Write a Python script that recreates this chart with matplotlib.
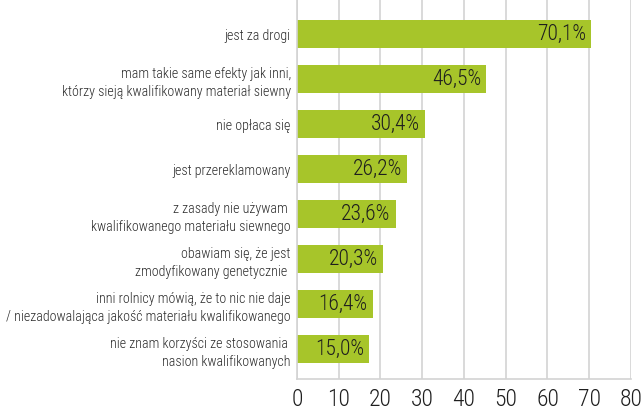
import matplotlib
matplotlib.use("Agg")
import matplotlib.pyplot as plt
from matplotlib import font_manager

categories = [
    "jest za drogi",
    "mam takie same efekty jak inni,\nktórzy sieją kwalifikowany materiał siewny",
    "nie opłaca się",
    "jest przereklamowany",
    "z zasady nie używam \nkwalifikowanego materiału siewnego",
    "obawiam się, że jest\nzmodyfikowany genetycznie ",
    "inni rolnicy mówią, że to nic nie daje\n/ niezadowalająca jakość materiału kwalifikowanego",
    "nie znam korzyści ze stosowania \nnasion kwalifikowanych",
]
# bar lengths as drawn in the picture, labels as printed on the bars
bar_lengths = [70.4, 45.3, 30.7, 26.3, 23.6, 20.5, 18.1, 17.2]
value_labels = ["70,1%", "46,5%", "30,4%", "26,2%", "23,6%", "20,3%", "16,4%", "15,0%"]
x_ticks = [0, 10, 20, 30, 40, 50, 60, 70, 80]

font = font_manager.FontProperties(family="Roboto Condensed", weight="light")

bar_color = "#a7c52a"
text_color = "#1e1e1e"
grid_color = "#d3d3d3"

fig = plt.figure(figsize=(6.43, 4.16), dpi=100)
ax = fig.add_axes([0.4619, 0.0889, 0.5194, 0.9111])

positions = list(range(len(categories)))
ax.barh(positions, bar_lengths, height=0.62, color=bar_color, zorder=2)

for pos, val, lab in zip(positions, bar_lengths, value_labels):
    ax.annotate(lab, (val, pos), xytext=(-3.5, 0), textcoords="offset points",
                ha="right", va="center", fontproperties=font, fontsize=15.5,
                color=text_color, zorder=3)

ax.set_xlim(0, 80)
ax.set_ylim(7.667, -0.756)
ax.set_xticks(x_ticks)
ax.set_xticklabels([str(t) for t in x_ticks], fontproperties=font,
                   fontsize=17, color=text_color)
ax.set_yticks(positions)
ax.set_yticklabels(categories, fontproperties=font, fontsize=10.1,
                   color="#2a2a2a", linespacing=1.42)
ax.tick_params(axis="both", length=0)
ax.tick_params(axis="y", pad=4.5)
ax.tick_params(axis="x", pad=6.8)

ax.grid(axis="x", color=grid_color, linewidth=1.2, zorder=0)
for side in ["top", "right"]:
    ax.spines[side].set_visible(False)
for side in ["left", "bottom"]:
    ax.spines[side].set_color(grid_color)
    ax.spines[side].set_linewidth(1.2)

fig.savefig("out.png", dpi=100)
